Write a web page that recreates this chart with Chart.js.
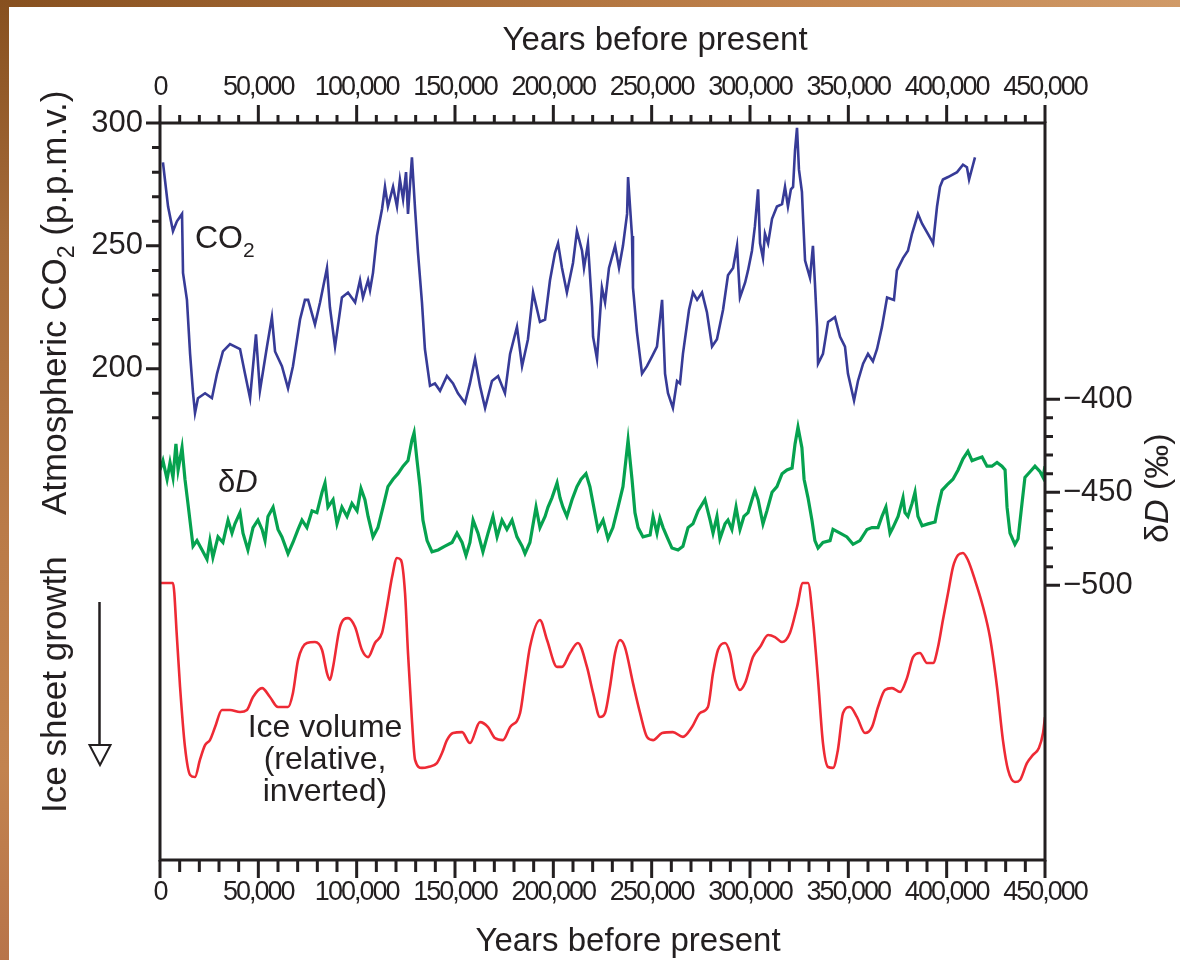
<!DOCTYPE html>
<html>
<head>
<meta charset="utf-8">
<title>Vostok ice core: CO2, δD and ice volume</title>
<script src="https://cdn.jsdelivr.net/npm/chart.js@4.4.1/dist/chart.umd.min.js"></script>
<style>
  html, body { margin: 0; padding: 0; width: 1180px; height: 960px; overflow: hidden; background: #ffffff; }
  #edgeTop { position: absolute; left: 0; top: 0; width: 1180px; height: 7px;
    background: linear-gradient(to right, #87501f 0%, #a66a36 35%, #c3854f 70%, #d09a68 100%); }
  #edgeLeft { position: absolute; left: 0; top: 0; width: 9px; height: 960px;
    background: linear-gradient(to bottom, #87501f 0%, #a56b3a 25%, #ba7b48 55%, #c2834f 80%, #b8744a 100%); }
  #plot { position: absolute; left: 0; top: 0; }
</style>
</head>
<body>
<div id="edgeTop"></div>
<div id="edgeLeft"></div>
<canvas id="plot" width="1180" height="960"></canvas>
<script>
// ---- Atmospheric CO2 (p.p.m.v.) against age (years before present)
const co2Age = [
  1500, 2500, 4100, 6600, 8600, 11200, 11700, 13700, 15300, 16800,
  17800, 19300, 22900, 26400, 29000, 32000, 35600, 40700, 43200, 45800,
  48800, 50800, 54400, 56900, 58500, 62000, 65100, 67600, 71200, 73700,
  75300, 78800, 81400, 84900, 86400, 89000, 92500, 95600, 99200, 101700,
  103200, 105800, 106800, 108300, 110300, 112900, 114400, 115900, 118500, 120500,
  122000, 123600, 125100, 126100, 128100, 129700, 131200, 133200, 134700, 137300,
  139800, 142400, 145900, 149000, 151500, 155100, 157600, 160200, 162700, 165300,
  168800, 171900, 175400, 178000, 181500, 184100, 187100, 189700, 193200, 195800,
  198300, 200800, 202400, 204400, 206900, 210000, 212000, 214600, 215600, 217600,
  219700, 220200, 222200, 224700, 226300, 228300, 231400, 233400, 235400, 237500,
  238000, 240000, 240500, 242500, 245100, 247600, 250200, 252700, 255300, 256800,
  258300, 260800, 262900, 264400, 265900, 269000, 271000, 273100, 275600, 278100,
  280700, 283200, 286300, 288800, 291400, 293400, 294900, 297500, 299000, 301000,
  302500, 304100, 305100, 306600, 307600, 309200, 311200, 313700, 316300, 317800,
  319300, 320800, 321900, 322900, 323900, 324900, 326400, 327000, 328000, 330500,
  332000, 333000, 334100, 334600, 337100, 339700, 343200, 345800, 348300, 349800,
  352900, 354900, 357500, 360000, 362500, 364600, 367100, 369700, 373200, 374700,
  377800, 380300, 382400, 385400, 387500, 392500, 393100, 395100, 396600, 398100,
  400700, 405300, 408300, 410300, 411400, 413400, 414400
];
const co2Ppm = [
  284, 277, 266, 256, 260, 263, 239, 228, 206, 190,
  182, 188, 190, 188, 198, 207, 210, 208, 198, 188,
  214, 191, 209, 221, 207, 201, 192, 201, 220, 228,
  228, 218, 227, 241, 225, 209, 229, 231, 227, 236,
  229, 236, 232, 239, 254, 265, 274, 266, 274, 266,
  277, 269, 280, 263, 286, 265, 247, 227, 208, 193,
  194, 191, 197, 194, 190, 186, 194, 204, 193, 184,
  195, 197, 190, 206, 217, 201, 212, 231, 219, 220,
  236, 247, 251, 241, 231, 243, 256, 248, 241, 251,
  225, 213, 204, 233, 227, 241, 250, 241, 250, 263,
  278, 254, 233, 215, 198, 201, 205, 209, 228, 198,
  190, 184, 195, 194, 206, 224, 231, 228, 231, 223,
  209, 212, 224, 238, 241, 250, 229, 235, 240, 248,
  258, 273, 251, 245, 255, 251, 261, 266, 267, 274,
  266, 273, 274, 289, 298, 281, 272, 261, 244, 237,
  250, 235, 217, 202, 206, 219, 221, 213, 209, 198,
  187, 195, 202, 206, 203, 208, 217, 229, 228, 240,
  245, 248, 255, 263, 259, 252, 251, 266, 274, 277,
  278, 280, 283, 282, 277, 283, 286
];

// ---- Deuterium δD (‰) against age
const dAge = [
  0, 1500, 3600, 5100, 6600, 8100, 9200, 11200, 12700, 14200,
  16800, 18800, 21400, 23900, 25400, 26900, 29500, 32000, 34600, 36600,
  38100, 40700, 42200, 44700, 47300, 49800, 51900, 53400, 54900, 57500,
  60000, 62000, 65100, 67600, 70200, 72200, 74700, 77300, 79800, 82400,
  83900, 85400, 88000, 90000, 92500, 95100, 97600, 100200, 102200, 104200,
  105800, 108300, 110800, 113400, 115900, 118500, 121000, 123600, 126100, 128100,
  129200, 130700, 132200, 133700, 135800, 138300, 141400, 144900, 148500, 151000,
  153600, 155600, 157600, 159200, 161700, 164200, 166800, 169300, 171400, 173900,
  176400, 179000, 181500, 184100, 185600, 188100, 191200, 193200, 195800, 197300,
  199300, 201900, 203400, 204900, 206900, 209500, 212000, 214100, 216600, 218600,
  220200, 222700, 225300, 227800, 230300, 232900, 235400, 238000, 240000, 241500,
  243100, 245600, 249200, 250700, 252700, 254200, 255800, 257800, 260300, 263400,
  265900, 268500, 271000, 273600, 277100, 279700, 281200, 283200, 284700, 287300,
  288800, 290800, 292900, 294900, 296900, 299000, 301000, 302500, 304100, 306600,
  308600, 311200, 313700, 316300, 318800, 321400, 322900, 324400, 326400, 327500,
  329500, 331500, 333000, 334600, 337100, 340700, 342200, 345800, 349300, 352400,
  355900, 359500, 362000, 365100, 367100, 369100, 371200, 372700, 375300, 377800,
  378800, 380300, 382400, 383900, 385400, 387500, 390500, 394100, 395600, 397600,
  400200, 403200, 405800, 408300, 410800, 412900, 415400, 418000, 420500, 423000,
  425600, 428100, 429700, 430700, 432200, 434700, 436300, 438300, 439800, 442400,
  444900, 447500, 449000, 450000
];
const dValue = [
  -438, -433, -443, -434, -442, -424, -438, -426, -443, -456,
  -479, -476, -481, -486, -476, -485, -474, -477, -465, -472,
  -467, -461, -472, -481, -469, -465, -470, -476, -463, -458,
  -470, -474, -483, -477, -470, -465, -469, -460, -461, -450,
  -445, -458, -454, -467, -458, -463, -456, -460, -448, -454,
  -463, -474, -469, -458, -447, -443, -440, -436, -433, -422,
  -418, -433, -447, -465, -476, -482, -481, -479, -477, -472,
  -477, -484, -477, -465, -472, -482, -472, -463, -474, -465,
  -470, -465, -474, -479, -483, -477, -458, -469, -463, -458,
  -453, -445, -453, -458, -463, -454, -447, -443, -440, -447,
  -456, -470, -465, -475, -469, -458, -447, -422, -443, -461,
  -469, -474, -473, -463, -472, -464, -469, -474, -480, -481,
  -479, -469, -467, -460, -454, -465, -472, -463, -475, -467,
  -465, -470, -458, -470, -463, -461, -454, -449, -454, -467,
  -460, -450, -447, -440, -438, -437, -424, -415, -426, -443,
  -453, -465, -476, -480, -477, -476, -470, -472, -474, -478,
  -476, -470, -469, -469, -463, -458, -472, -469, -463, -453,
  -461, -463, -456, -450, -463, -468, -467, -466, -458, -449,
  -446, -443, -438, -432, -428, -433, -432, -431, -436, -436,
  -434, -436, -438, -458, -472, -478, -475, -456, -442, -439,
  -436, -439, -442, -436
];

// ---- Relative ice volume (larger = more ice; plotted inverted)
const iceAge = [
  0, 6600, 8600, 10200, 12700, 15300, 17800, 20300, 22900, 25400,
  28000, 31500, 35600, 40700, 44200, 47300, 51900, 55900, 60000, 65100,
  67600, 70200, 74700, 78800, 82400, 84900, 86400, 88000, 91500, 95600,
  99200, 102700, 105800, 109300, 112900, 115400, 118000, 120500, 122500, 124600,
  126100, 128100, 129700, 133200, 136300, 140800, 143400, 145900, 149000, 153600,
  157600, 162700, 166800, 170300, 174400, 178000, 183100, 185600, 188100, 193200,
  196800, 201900, 204400, 208500, 212500, 217100, 220200, 223700, 226300, 228800,
  231400, 233900, 236400, 240500, 244100, 247600, 250700, 255300, 260800, 265900,
  270500, 274600, 278600, 281200, 283700, 287300, 289800, 292400, 294900, 297500,
  301500, 305100, 309200, 312700, 316300, 320300, 323900, 326900, 329500, 332000,
  334600, 337100, 339700, 342200, 344700, 347300, 350800, 354400, 358500, 362000,
  365100, 368600, 372200, 376300, 379800, 382900, 386400, 390000, 393100, 395600,
  398100, 400700, 403200, 405800, 408300, 410800, 414400, 418500, 422000, 425600,
  428600, 431200, 434700, 437300, 440800, 443900, 446900, 449000, 450000
];
const iceVolume = [
  11.4, 11.4, 35.1, 57.0, 83.3, 95.6, 96.5, 89.0, 82.5, 80.3,
  74.6, 67.1, 67.1, 68.0, 67.1, 61.4, 57.5, 61.4, 65.8, 65.8,
  59.6, 45.2, 37.7, 37.3, 40.8, 50.9, 53.9, 48.2, 30.7, 26.8,
  30.7, 40.8, 43.9, 37.7, 33.3, 21.9, 8.8, 0.4, 1.3, 15.8,
  42.1, 71.5, 89.0, 92.5, 92.1, 90.4, 86.0, 80.3, 77.2, 76.8,
  81.6, 72.4, 74.6, 79.4, 80.3, 74.6, 68.4, 53.9, 39.5, 27.6,
  36.4, 48.2, 48.2, 42.1, 37.7, 48.2, 59.6, 70.2, 68.4, 57.0,
  42.1, 36.4, 39.5, 55.3, 68.4, 78.9, 80.3, 77.2, 76.8, 78.9,
  74.6, 68.4, 65.8, 50.9, 40.8, 37.7, 42.1, 53.9, 58.3, 55.3,
  43.9, 39.5, 34.2, 35.1, 37.3, 33.3, 21.9, 11.4, 11.4, 27.6,
  53.9, 81.6, 92.1, 92.5, 84.6, 68.4, 65.8, 70.2, 77.2, 74.6,
  65.8, 58.3, 57.5, 59.2, 53.1, 43.9, 42.1, 46.5, 46.5, 39.5,
  27.6, 15.8, 4.4, -0.9, -1.8, 1.3, 10.1, 21.9, 35.1, 57.0,
  80.3, 93.4, 98.7, 97.8, 90.4, 86.8, 83.8, 77.2, 70.2
];

// ---- Axis ticks
const xMajorTicks = [0, 50000, 100000, 150000, 200000, 250000, 300000, 350000, 400000, 450000];
const xMinorTicks = [
  10000, 20000, 30000, 40000, 60000, 70000, 80000, 90000,
  110000, 120000, 130000, 140000, 160000, 170000, 180000, 190000,
  210000, 220000, 230000, 240000, 260000, 270000, 280000, 290000,
  310000, 320000, 330000, 340000, 360000, 370000, 380000, 390000,
  410000, 420000, 430000, 440000
];
const co2TickValues = [200, 250, 300];
const co2MinorTicks = [180, 190, 210, 220, 230, 240, 260, 270, 280, 290];
const dTickValues = [-400, -450, -500];
const dMinorTicks = [-410, -420, -430, -440, -460, -470, -480, -490];

const FONT = '"Liberation Sans", Arial, Helvetica, sans-serif';
const INK = '#231f20';

const pairs = (xs, ys) => xs.map((x, i) => ({ x, y: ys[i] }));
const fixedTicks = values => scale => { scale.ticks = values.map(value => ({ value })); };

function drawRuns(ctx, x, y, angle, runs, align) {
  ctx.save();
  ctx.translate(x, y);
  ctx.rotate(angle);
  ctx.textAlign = 'left';
  ctx.textBaseline = 'alphabetic';
  const fontOf = r => (r.italic ? 'italic ' : '') + r.size + 'px ' + FONT;
  let total = 0;
  runs.forEach(r => { ctx.font = fontOf(r); total += ctx.measureText(r.text).width; });
  let cx = align === 'center' ? -total / 2 : 0;
  runs.forEach(r => {
    ctx.font = fontOf(r);
    ctx.fillText(r.text, cx, r.shift || 0);
    cx += ctx.measureText(r.text).width;
  });
  ctx.restore();
}

// The year labels are set tight; the y-axis labels (drawn after the datasets) are not.
const tightYearLabels = {
  id: 'tightYearLabels',
  beforeDraw(chart) { chart.ctx.letterSpacing = '-2px'; },
  afterDatasetsDraw(chart) { chart.ctx.letterSpacing = '0px'; }
};

// Frame, tick marks, titles and in-plot labels
const frameAndText = {
  id: 'frameAndText',
  afterDraw(chart) {
    const { ctx, chartArea: a } = chart;
    const xb = chart.scales.x, xt = chart.scales.xTop;
    const yc = chart.scales.yCO2, yd = chart.scales.yD;
    ctx.save();
    ctx.letterSpacing = '0px';
    ctx.strokeStyle = INK;
    ctx.fillStyle = INK;
    ctx.lineWidth = 3;
    ctx.lineCap = 'butt';
    ctx.beginPath();
    ctx.rect(a.left, a.top, a.right - a.left, a.bottom - a.top);
    ctx.stroke();

    const seg = (x1, y1, x2, y2) => { ctx.moveTo(x1, y1); ctx.lineTo(x2, y2); };
    ctx.beginPath();
    xMajorTicks.forEach(v => {
      const pt = xt.getPixelForValue(v), pb = xb.getPixelForValue(v);
      seg(pt, a.top, pt, a.top - 18);
      seg(pb, a.bottom, pb, a.bottom + 18);
    });
    xMinorTicks.forEach(v => {
      const pt = xt.getPixelForValue(v), pb = xb.getPixelForValue(v);
      seg(pt, a.top, pt, a.top - 8);
      seg(pb, a.bottom, pb, a.bottom + 12);
    });
    co2TickValues.forEach(v => { const p = yc.getPixelForValue(v); seg(a.left, p, a.left - 14, p); });
    co2MinorTicks.forEach(v => { const p = yc.getPixelForValue(v); seg(a.left, p, a.left - 8, p); });
    dTickValues.forEach(v => { const p = yd.getPixelForValue(v); seg(a.right, p, a.right + 15, p); });
    dMinorTicks.forEach(v => { const p = yd.getPixelForValue(v); seg(a.right, p, a.right + 8, p); });
    ctx.stroke();

    // "Ice sheet growth" arrow
    ctx.lineWidth = 2.5;
    ctx.beginPath();
    seg(99.5, 602, 99.5, 746);
    ctx.stroke();
    ctx.lineWidth = 2;
    ctx.beginPath();
    ctx.moveTo(89.5, 745);
    ctx.lineTo(110.5, 745);
    ctx.lineTo(100, 765);
    ctx.closePath();
    ctx.fillStyle = '#ffffff';
    ctx.fill();
    ctx.stroke();
    ctx.fillStyle = INK;

    // Axis titles
    const up = -Math.PI / 2;
    drawRuns(ctx, 655, 50, 0, [{ text: 'Years before present', size: 33 }], 'center');
    drawRuns(ctx, 628, 951, 0, [{ text: 'Years before present', size: 33 }], 'center');
    drawRuns(ctx, 66, 515, up, [
      { text: 'Atmospheric CO', size: 35 },
      { text: '2', size: 23, shift: 8 },
      { text: ' (p.p.m.v.)', size: 35 }
    ]);
    drawRuns(ctx, 66, 813, up, [{ text: 'Ice sheet growth', size: 35 }]);
    drawRuns(ctx, 1168, 543, up, [
      { text: 'δ', size: 34 },
      { text: 'D', size: 34, italic: true },
      { text: ' (‰)', size: 34 }
    ]);

    // Series labels
    drawRuns(ctx, 195, 248, 0, [{ text: 'CO', size: 32 }, { text: '2', size: 21, shift: 9 }]);
    drawRuns(ctx, 218, 492, 0, [{ text: 'δ', size: 31 }, { text: 'D', size: 31, italic: true }]);
    drawRuns(ctx, 325, 737, 0, [{ text: 'Ice volume', size: 32 }], 'center');
    drawRuns(ctx, 325, 769, 0, [{ text: '(relative,', size: 32 }], 'center');
    drawRuns(ctx, 325, 801, 0, [{ text: 'inverted)', size: 32 }], 'center');
    ctx.restore();
  }
};

const xAxis = (position, padding, boxHeight, fontSize) => ({
  type: 'linear',
  position,
  min: 0,
  max: 450000,
  afterBuildTicks: fixedTicks(xMajorTicks),
  afterFit: s => { s.height = boxHeight; },
  grid: { display: false, drawTicks: false },
  border: { display: false },
  ticks: {
    autoSkip: false,
    maxRotation: 0,
    padding,
    z: 0,
    color: INK,
    font: { family: FONT, size: fontSize },
    callback: v => v.toLocaleString('en-US')
  }
});

new Chart(document.getElementById('plot'), {
  type: 'line',
  data: {
    datasets: [
      {
        label: 'CO2',
        data: pairs(co2Age, co2Ppm),
        xAxisID: 'x', yAxisID: 'yCO2',
        borderColor: '#373b97', borderWidth: 2.6,
        pointRadius: 0, tension: 0
      },
      {
        label: 'δD',
        data: pairs(dAge, dValue),
        xAxisID: 'x', yAxisID: 'yD',
        borderColor: '#06a24f', borderWidth: 3.2,
        pointRadius: 0, tension: 0
      },
      {
        label: 'Ice volume',
        data: pairs(iceAge, iceVolume),
        xAxisID: 'x', yAxisID: 'yIce',
        borderColor: '#ee2a35', borderWidth: 2.6,
        pointRadius: 0, cubicInterpolationMode: 'monotone'
      }
    ]
  },
  options: {
    responsive: false,
    animation: false,
    devicePixelRatio: 1,
    layout: { padding: 0 },
    plugins: { legend: { display: false }, tooltip: { enabled: false } },
    scales: {
      x: xAxis('bottom', 16, 100, 27),
      xTop: xAxis('top', 19, 123, 27),
      yCO2: {
        type: 'linear',
        position: 'left',
        min: 0,
        max: 300,
        afterBuildTicks: fixedTicks(co2TickValues),
        afterFit: s => { s.width = 160; },
        grid: { display: false, drawTicks: false },
        border: { display: false },
        ticks: { z: 1, padding: 17, color: INK, font: { family: FONT, size: 31 }, callback: v => String(v) }
      },
      yD: {
        type: 'linear',
        position: 'right',
        min: -647.7,
        max: -251.5,
        afterBuildTicks: fixedTicks(dTickValues),
        afterFit: s => { s.width = 135; },
        grid: { display: false, drawTicks: false },
        border: { display: false },
        ticks: { z: 1, padding: 18, color: INK, font: { family: FONT, size: 31 }, callback: v => '\u2212' + Math.abs(v) }
      },
      yIce: {
        type: 'linear',
        display: false,
        reverse: true,
        min: -190.4,
        max: 132.9
      }
    }
  },
  plugins: [tightYearLabels, frameAndText]
});
</script>
</body>
</html>
